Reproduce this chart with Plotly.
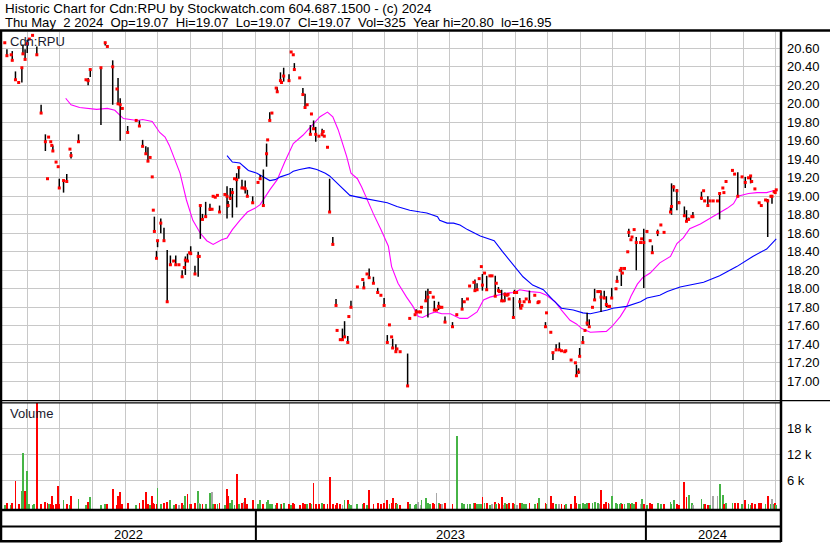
import plotly.graph_objects as go
import pandas as pd

W, H = 830, 543
FONT = "Liberation Sans, Arial, sans-serif"

# ---------------- data ----------------
dates = [
    "2022-05-11", "2022-05-13", "2022-05-17", "2022-05-18", "2022-05-21", "2022-05-24", "2022-05-27", "2022-05-28", "2022-05-30", "2022-06-01",
    "2022-06-03", "2022-06-06", "2022-06-07", "2022-06-10", "2022-06-14", "2022-06-18", "2022-06-20", "2022-06-21", "2022-06-23", "2022-06-24",
    "2022-06-25", "2022-06-28", "2022-06-30", "2022-07-01", "2022-07-05", "2022-07-08", "2022-07-11", "2022-07-12", "2022-07-19", "2022-07-26",
    "2022-07-28", "2022-07-30", "2022-08-09", "2022-08-13", "2022-08-15", "2022-08-20", "2022-08-24", "2022-08-25", "2022-08-27", "2022-08-29",
    "2022-09-03", "2022-09-11", "2022-09-14", "2022-09-17", "2022-09-20", "2022-09-22", "2022-09-24", "2022-09-26", "2022-09-27", "2022-09-28",
    "2022-09-30", "2022-10-01", "2022-10-04", "2022-10-07", "2022-10-10", "2022-10-13", "2022-10-16", "2022-10-18", "2022-10-21", "2022-10-24",
    "2022-10-26", "2022-10-27", "2022-10-29", "2022-10-31", "2022-11-01", "2022-11-05", "2022-11-08", "2022-11-09", "2022-11-10", "2022-11-12",
    "2022-11-15", "2022-11-19", "2022-11-21", "2022-11-22", "2022-11-24", "2022-11-26", "2022-11-28", "2022-12-03", "2022-12-05", "2022-12-06",
    "2022-12-08", "2022-12-10", "2022-12-12", "2022-12-14", "2022-12-16", "2022-12-19", "2022-12-21", "2022-12-22", "2022-12-24", "2022-12-29",
    "2023-01-03", "2023-01-05", "2023-01-08", "2023-01-11", "2023-01-12", "2023-01-14", "2023-01-16", "2023-01-20", "2023-01-21", "2023-01-24",
    "2023-01-25", "2023-01-27", "2023-02-01", "2023-02-03", "2023-02-05", "2023-02-06", "2023-02-11", "2023-02-14", "2023-02-16", "2023-02-18",
    "2023-02-21", "2023-02-22", "2023-02-24", "2023-02-26", "2023-03-01", "2023-03-04", "2023-03-05", "2023-03-06", "2023-03-09", "2023-03-11",
    "2023-03-14", "2023-03-17", "2023-03-18", "2023-03-21", "2023-03-23", "2023-03-25", "2023-03-28", "2023-03-29", "2023-03-31", "2023-04-06",
    "2023-04-11", "2023-04-12", "2023-04-15", "2023-04-17", "2023-04-21", "2023-04-25", "2023-04-28", "2023-05-01", "2023-05-04", "2023-05-06",
    "2023-05-08", "2023-05-09", "2023-05-12", "2023-05-13", "2023-05-16", "2023-05-23", "2023-05-25", "2023-05-30", "2023-05-31", "2023-06-02",
    "2023-06-04", "2023-06-05", "2023-06-09", "2023-06-11", "2023-06-13", "2023-06-16", "2023-06-17", "2023-06-19", "2023-06-21", "2023-06-22",
    "2023-06-24", "2023-06-27", "2023-07-04", "2023-07-08", "2023-07-13", "2023-07-15", "2023-07-18", "2023-07-20", "2023-07-24", "2023-07-25",
    "2023-07-27", "2023-07-29", "2023-07-31", "2023-08-01", "2023-08-03", "2023-08-05", "2023-08-08", "2023-08-10", "2023-08-13", "2023-08-14",
    "2023-08-16", "2023-08-17", "2023-08-19", "2023-08-21", "2023-08-22", "2023-08-24", "2023-08-25", "2023-08-26", "2023-08-30", "2023-08-31",
    "2023-09-02", "2023-09-05", "2023-09-06", "2023-09-07", "2023-09-09", "2023-09-11", "2023-09-14", "2023-09-19", "2023-09-22", "2023-09-23",
    "2023-09-29", "2023-09-30", "2023-10-04", "2023-10-06", "2023-10-09", "2023-10-12", "2023-10-14", "2023-10-17", "2023-10-18", "2023-10-23",
    "2023-10-27", "2023-10-28", "2023-10-30", "2023-10-31", "2023-11-03", "2023-11-05", "2023-11-07", "2023-11-09", "2023-11-12", "2023-11-14",
    "2023-11-17", "2023-11-19", "2023-11-20", "2023-11-23", "2023-11-25", "2023-11-27", "2023-11-28", "2023-11-30", "2023-12-04", "2023-12-05",
    "2023-12-08", "2023-12-09", "2023-12-10", "2023-12-12", "2023-12-15", "2023-12-16", "2023-12-18", "2023-12-19", "2023-12-21", "2023-12-23",
    "2023-12-27", "2023-12-28", "2023-12-30", "2024-01-02", "2024-01-05", "2024-01-07", "2024-01-12", "2024-01-15", "2024-01-18", "2024-01-24",
    "2024-01-25", "2024-01-27", "2024-01-30", "2024-02-01", "2024-02-06", "2024-02-08", "2024-02-10", "2024-02-13", "2024-02-14", "2024-02-22",
    "2024-02-24", "2024-02-25", "2024-02-28", "2024-03-01", "2024-03-04", "2024-03-08", "2024-03-10", "2024-03-13", "2024-03-14", "2024-03-16",
    "2024-03-22", "2024-03-24", "2024-03-27", "2024-03-31", "2024-04-03", "2024-04-06", "2024-04-08", "2024-04-09", "2024-04-12", "2024-04-16",
    "2024-04-18", "2024-04-22", "2024-04-24", "2024-04-27", "2024-04-28", "2024-04-30", "2024-05-01", "2024-05-02",
]
highs = [
    20.66, 20.59, 20.53, 20.57, 20.35, 20.23, 20.39, 20.64, 20.59, 20.69,
    20.70, 20.74, 20.80, 20.62, 19.99, 19.67, 19.19, 19.64, 19.59, 19.55,
    19.55, 19.37, 19.32, 19.19, 19.18, 19.24, 19.51, 19.48, 19.67, 20.26,
    20.28, 20.38, 20.39, 20.67, 20.62, 20.47, 20.16, 20.28, 20.06, 19.95,
    19.76, 19.82, 19.82, 19.61, 19.54, 19.53, 19.42, 19.21, 18.85, 18.78,
    18.41, 18.52, 18.76, 18.66, 18.42, 18.36, 18.30, 18.36, 18.26, 18.20,
    18.23, 18.35, 18.38, 18.39, 18.46, 18.25, 18.40, 18.35, 18.91, 18.81,
    18.94, 18.92, 18.86, 19.00, 18.99, 19.01, 18.90, 19.02, 19.11, 18.95,
    19.09, 19.09, 19.19, 19.25, 19.32, 19.18, 19.09, 19.17, 19.07, 19.00,
    19.15, 19.23, 19.29, 19.57, 19.61, 19.91, 19.90, 20.17, 20.18, 20.34,
    20.23, 20.39, 20.32, 20.56, 20.53, 20.44, 20.28, 20.17, 20.11, 19.99,
    19.77, 19.89, 19.82, 19.75, 19.65, 19.73, 19.70, 19.65, 19.53, 19.19,
    18.56, 17.89, 17.55, 17.45, 17.57, 17.65, 17.49, 17.70, 17.87, 18.02,
    18.11, 18.08, 18.16, 18.22, 18.13, 18.01, 17.93, 17.90, 17.50, 17.61,
    17.48, 17.46, 17.40, 17.35, 17.32, 17.30, 17.68, 17.72, 17.78, 17.75,
    17.75, 17.80, 17.98, 18.00, 17.96, 17.92, 17.87, 17.77, 17.86, 17.80,
    17.80, 17.70, 17.64, 17.73, 17.90, 17.86, 17.89, 18.03, 18.07, 18.10,
    18.06, 18.11, 18.24, 18.16, 18.17, 18.14, 18.14, 18.14, 18.14, 18.06,
    18.02, 17.97, 17.99, 17.87, 17.96, 17.93, 17.94, 17.89, 17.91, 17.99,
    17.96, 17.90, 17.79, 17.82, 17.86, 17.89, 17.98, 17.93, 17.87, 17.86,
    17.64, 17.74, 17.54, 17.31, 17.40, 17.42, 17.33, 17.32, 17.33, 17.23,
    17.20, 17.18, 17.14, 17.36, 17.49, 17.55, 17.74, 17.67, 17.80, 18.00,
    17.97, 17.97, 17.98, 17.98, 17.92, 17.81, 17.81, 18.01, 18.00, 18.14,
    18.20, 18.23, 18.17, 18.22, 18.40, 18.65, 18.53, 18.56, 18.64, 18.56,
    18.50, 18.54, 18.65, 18.62, 18.52, 18.47, 18.64, 18.69, 18.61, 18.88,
    19.14, 19.12, 19.08, 18.95, 18.89, 18.85, 18.77, 18.78, 18.83, 19.05,
    19.06, 18.95, 19.00, 18.95, 18.95, 18.95, 19.03, 19.09, 19.04, 19.16,
    19.29, 19.24, 19.26, 19.21, 19.21, 19.20, 19.23, 19.16, 19.08, 18.93,
    18.90, 18.96, 18.97, 19.00, 19.01, 19.05, 19.04, 19.07,
]
lows = [
    20.66, 20.52, 20.53, 20.47, 20.25, 20.23, 20.23, 20.53, 20.48, 20.55,
    20.70, 20.74, 20.80, 20.53, 19.90, 19.49, 19.19, 19.64, 19.59, 19.55,
    19.49, 19.37, 19.32, 19.09, 19.04, 19.16, 19.51, 19.41, 19.59, 20.26,
    20.20, 20.29, 19.77, 20.63, 20.62, 19.99, 20.16, 19.99, 19.60, 19.95,
    19.69, 19.82, 19.76, 19.54, 19.46, 19.38, 19.42, 19.21, 18.85, 18.62,
    18.32, 18.45, 18.60, 18.52, 17.86, 18.26, 18.30, 18.26, 18.26, 18.12,
    18.23, 18.15, 18.30, 18.39, 18.38, 18.15, 18.13, 18.35, 18.54, 18.75,
    18.78, 18.84, 18.86, 19.00, 18.99, 19.01, 18.83, 19.02, 18.76, 18.88,
    18.96, 18.77, 19.19, 18.88, 19.19, 19.09, 19.09, 19.03, 19.00, 18.93,
    19.15, 19.18, 18.90, 19.32, 19.61, 19.82, 19.90, 20.17, 20.13, 20.24,
    20.23, 20.24, 20.25, 20.56, 20.53, 20.37, 20.28, 20.10, 19.95, 19.99,
    19.67, 19.89, 19.73, 19.59, 19.65, 19.65, 19.70, 19.65, 19.53, 18.83,
    18.48, 17.82, 17.55, 17.45, 17.45, 17.48, 17.42, 17.70, 17.80, 18.02,
    18.10, 18.01, 18.16, 18.12, 18.06, 17.96, 17.93, 17.82, 17.42, 17.61,
    17.48, 17.36, 17.32, 17.35, 17.32, 16.95, 17.68, 17.72, 17.75, 17.75,
    17.75, 17.80, 17.87, 17.69, 17.96, 17.90, 17.77, 17.77, 17.77, 17.80,
    17.80, 17.64, 17.59, 17.72, 17.78, 17.86, 17.89, 18.03, 18.07, 17.97,
    17.99, 18.11, 18.24, 17.98, 18.17, 17.99, 18.14, 18.14, 17.92, 18.06,
    17.98, 17.97, 17.87, 17.87, 17.86, 17.93, 17.94, 17.89, 17.69, 17.96,
    17.96, 17.79, 17.79, 17.82, 17.86, 17.89, 17.86, 17.93, 17.85, 17.86,
    17.58, 17.74, 17.53, 17.23, 17.34, 17.33, 17.33, 17.32, 17.33, 17.23,
    17.20, 17.05, 17.08, 17.27, 17.42, 17.55, 17.60, 17.59, 17.80, 17.88,
    17.97, 17.97, 17.75, 17.90, 17.80, 17.81, 17.81, 17.90, 18.00, 18.08,
    18.20, 18.03, 18.17, 18.22, 18.40, 18.56, 18.53, 18.56, 18.64, 18.20,
    18.50, 18.54, 18.01, 18.62, 18.52, 18.39, 18.57, 18.69, 18.61, 18.83,
    18.80, 19.05, 18.85, 18.93, 18.78, 18.72, 18.74, 18.78, 18.78, 18.96,
    19.06, 18.95, 18.90, 18.95, 18.95, 18.95, 18.75, 19.09, 19.04, 19.16,
    19.27, 19.24, 19.00, 19.21, 19.09, 19.20, 19.14, 19.16, 19.08, 18.93,
    18.90, 18.96, 18.56, 19.00, 18.92, 19.05, 19.04, 19.07,
]
closes = [
    20.66, 20.52, 20.53, 20.47, 20.26, 20.23, 20.39, 20.54, 20.48, 20.65,
    20.70, 20.74, 20.80, 20.53, 19.90, 19.59, 19.19, 19.64, 19.59, 19.55,
    19.49, 19.37, 19.32, 19.09, 19.17, 19.16, 19.51, 19.44, 19.59, 20.26,
    20.25, 20.37, 20.39, 20.66, 20.62, 20.40, 20.16, 20.00, 19.99, 19.95,
    19.69, 19.82, 19.76, 19.54, 19.46, 19.38, 19.42, 19.21, 18.85, 18.62,
    18.33, 18.52, 18.71, 18.52, 17.86, 18.26, 18.30, 18.26, 18.26, 18.13,
    18.23, 18.31, 18.30, 18.39, 18.38, 18.16, 18.35, 18.35, 18.90, 18.75,
    18.78, 18.86, 18.86, 19.00, 18.99, 19.01, 18.83, 19.02, 19.00, 18.90,
    18.98, 19.04, 19.19, 19.18, 19.31, 19.09, 19.09, 19.08, 19.00, 18.93,
    19.15, 19.19, 18.90, 19.46, 19.61, 19.82, 19.90, 20.17, 20.13, 20.25,
    20.23, 20.30, 20.25, 20.56, 20.53, 20.37, 20.28, 20.10, 19.96, 19.99,
    19.67, 19.89, 19.73, 19.67, 19.65, 19.67, 19.70, 19.65, 19.53, 18.83,
    18.48, 17.82, 17.55, 17.45, 17.45, 17.48, 17.42, 17.70, 17.80, 18.02,
    18.10, 18.01, 18.16, 18.12, 18.06, 17.96, 17.93, 17.82, 17.42, 17.61,
    17.48, 17.36, 17.32, 17.35, 17.32, 16.95, 17.68, 17.72, 17.75, 17.75,
    17.75, 17.80, 17.87, 17.91, 17.96, 17.91, 17.77, 17.77, 17.81, 17.80,
    17.80, 17.64, 17.59, 17.72, 17.78, 17.86, 17.89, 18.03, 18.07, 17.98,
    17.99, 18.11, 18.24, 18.04, 18.17, 17.99, 18.14, 18.14, 17.92, 18.06,
    17.98, 17.97, 17.87, 17.87, 17.94, 17.93, 17.94, 17.89, 17.69, 17.96,
    17.96, 17.86, 17.79, 17.82, 17.86, 17.89, 17.86, 17.93, 17.85, 17.86,
    17.59, 17.74, 17.53, 17.31, 17.34, 17.34, 17.33, 17.32, 17.33, 17.23,
    17.20, 17.06, 17.10, 17.27, 17.42, 17.55, 17.63, 17.59, 17.80, 17.88,
    17.97, 17.97, 17.91, 17.90, 17.83, 17.81, 17.81, 17.90, 18.00, 18.08,
    18.20, 18.22, 18.17, 18.22, 18.40, 18.61, 18.53, 18.56, 18.64, 18.50,
    18.50, 18.54, 18.50, 18.62, 18.52, 18.39, 18.61, 18.69, 18.61, 18.83,
    18.89, 19.10, 19.06, 18.93, 18.79, 18.73, 18.75, 18.78, 18.78, 18.98,
    19.06, 18.95, 18.90, 18.95, 18.95, 18.95, 19.03, 19.09, 19.04, 19.16,
    19.28, 19.24, 19.00, 19.21, 19.15, 19.20, 19.22, 19.16, 19.08, 18.93,
    18.90, 18.96, 18.95, 19.00, 19.00, 19.05, 19.04, 19.07,
]
volumes = [
    300, 800, 300, 600, 5800, 500, 3500, 12300, 3500, 8100,
    400, 300, 400, 26000, 500, 900, 600, 500, 400, 2300,
    300, 500, 4600, 500, 1400, 500, 300, 2300, 1600, 300,
    900, 2000, 300, 400, 500, 3900, 300, 2300, 3200, 500,
    600, 300, 600, 1400, 3200, 500, 300, 2400, 600, 500,
    400, 4200, 500, 800, 1000, 1300, 300, 500, 200, 800,
    300, 2300, 2700, 500, 500, 700, 3500, 600, 400, 500,
    400, 3100, 3200, 400, 400, 500, 600, 300, 3900, 2300,
    700, 1300, 300, 7400, 500, 600, 900, 1900, 400, 1300,
    500, 1400, 500, 1000, 1400, 400, 500, 300, 600, 500,
    400, 600, 500, 300, 600, 400, 300, 800, 500, 400,
    600, 400, 5300, 500, 400, 600, 300, 500, 400, 6700,
    500, 300, 800, 400, 200, 1300, 1300, 500, 300, 500,
    400, 600, 300, 3700, 500, 700, 400, 600, 1400, 500,
    600, 1900, 800, 500, 300, 900, 400, 300, 400, 900,
    300, 1400, 1900, 600, 500, 600, 400, 2900, 800, 500,
    400, 600, 400, 16200, 600, 500, 500, 500, 600, 800,
    400, 500, 400, 2000, 600, 800, 300, 400, 900, 500,
    600, 400, 2000, 300, 700, 500, 500, 600, 700, 400,
    300, 600, 500, 600, 500, 400, 700, 500, 600, 1900,
    600, 400, 2300, 600, 500, 400, 500, 300, 400, 500,
    2400, 600, 500, 400, 600, 500, 800, 700, 600, 900,
    600, 500, 3700, 500, 900, 800, 500, 2400, 600, 500,
    400, 600, 500, 400, 600, 800, 500, 600, 500, 900,
    400, 1700, 400, 300, 600, 500, 600, 400, 500, 900,
    500, 1500, 400, 300, 5500, 2000, 2600, 600, 300, 1700,
    500, 500, 300, 300, 2400, 2400, 5100, 2600, 500, 600,
    700, 800, 600, 400, 1300, 500, 300, 600, 500, 700,
    600, 400, 2300, 500, 1700, 400, 600, 325,
]

# moving averages as drawn on the reference (magenta = short, blue = long)
ma_short_dates = [
    "2022-07-07", "2022-07-12", "2022-07-20", "2022-08-05", "2022-08-15", "2022-08-22", "2022-08-30", "2022-09-12",
    "2022-09-17", "2022-09-26", "2022-10-03", "2022-10-08", "2022-10-12", "2022-10-15", "2022-10-22", "2022-10-28",
    "2022-11-03", "2022-11-10", "2022-11-16", "2022-11-22", "2022-11-30", "2022-12-05", "2022-12-10", "2022-12-17",
    "2022-12-24", "2022-12-31", "2023-01-05", "2023-01-14", "2023-01-21", "2023-01-28", "2023-02-05", "2023-02-14",
    "2023-02-23", "2023-03-02", "2023-03-09", "2023-03-14", "2023-03-19", "2023-03-27", "2023-03-31", "2023-04-06",
    "2023-04-10", "2023-04-15", "2023-04-21", "2023-04-28", "2023-05-05", "2023-05-08", "2023-05-14", "2023-05-22",
    "2023-05-28", "2023-06-02", "2023-06-06", "2023-06-13", "2023-06-18", "2023-06-24", "2023-07-02", "2023-07-11",
    "2023-07-18", "2023-07-27", "2023-08-02", "2023-08-08", "2023-08-22", "2023-08-30", "2023-09-05", "2023-09-15",
    "2023-09-24", "2023-09-30", "2023-10-08", "2023-10-14", "2023-10-22", "2023-10-28", "2023-11-02", "2023-11-10",
    "2023-11-25", "2023-11-30", "2023-12-05", "2023-12-08", "2023-12-14", "2023-12-18", "2023-12-24", "2023-12-29",
    "2024-01-05", "2024-01-14", "2024-01-24", "2024-01-30", "2024-02-05", "2024-02-11", "2024-02-21", "2024-03-01",
    "2024-03-10", "2024-03-17", "2024-03-23", "2024-03-27", "2024-04-06", "2024-04-14", "2024-04-23", "2024-04-29",
    "2024-05-02",
]
ma_short = [
    20.06, 19.99, 19.96, 19.94, 19.95, 19.93, 19.84, 19.82,
    19.83, 19.81, 19.69, 19.64, 19.55, 19.46, 19.25, 18.96,
    18.74, 18.60, 18.52, 18.48, 18.53, 18.55, 18.64, 18.74,
    18.83, 18.87, 18.91, 19.07, 19.18, 19.37, 19.57, 19.66,
    19.77, 19.86, 19.91, 19.86, 19.72, 19.43, 19.25, 19.19,
    19.10, 18.96, 18.81, 18.64, 18.46, 18.24, 18.06, 17.91,
    17.81, 17.70, 17.69, 17.73, 17.75, 17.73, 17.73, 17.68,
    17.68, 17.75, 17.88, 17.91, 17.95, 17.96, 17.99, 17.97,
    17.96, 17.93, 17.86, 17.77, 17.66, 17.62, 17.57, 17.53,
    17.54, 17.59, 17.66, 17.70, 17.81, 17.92, 18.05, 18.12,
    18.17, 18.28, 18.35, 18.49, 18.55, 18.65, 18.70, 18.76,
    18.82, 18.87, 18.92, 19.00, 19.03, 19.04, 19.04, 19.06,
    19.06,
]
ma_long_dates = [
    "2022-12-05", "2022-12-10", "2022-12-17", "2022-12-25", "2023-01-02", "2023-01-08", "2023-01-14", "2023-01-19",
    "2023-01-24", "2023-02-01", "2023-02-05", "2023-02-11", "2023-02-20", "2023-02-27", "2023-03-07", "2023-03-11",
    "2023-03-18", "2023-03-30", "2023-04-11", "2023-04-21", "2023-05-04", "2023-05-13", "2023-05-25", "2023-06-04",
    "2023-06-10", "2023-06-20", "2023-06-22", "2023-06-29", "2023-07-05", "2023-07-11", "2023-07-18", "2023-07-30",
    "2023-08-08", "2023-08-12", "2023-08-20", "2023-08-30", "2023-09-08", "2023-09-17", "2023-09-27", "2023-10-06",
    "2023-10-14", "2023-10-25", "2023-11-03", "2023-11-10", "2023-11-19", "2023-11-26", "2023-12-01", "2023-12-14",
    "2023-12-27", "2024-01-02", "2024-01-14", "2024-01-21", "2024-02-02", "2024-02-24", "2024-03-10", "2024-03-26",
    "2024-04-10", "2024-04-23", "2024-05-02",
]
ma_long = [
    19.44, 19.37, 19.36, 19.28, 19.25, 19.21, 19.17, 19.18,
    19.21, 19.24, 19.27, 19.29, 19.31, 19.29, 19.25, 19.22,
    19.14, 19.01, 18.98, 18.96, 18.93, 18.89, 18.85, 18.83,
    18.82, 18.78, 18.74, 18.71, 18.71, 18.69, 18.64, 18.57,
    18.54, 18.52, 18.40, 18.26, 18.13, 18.04, 17.99, 17.88,
    17.79, 17.77, 17.74, 17.73, 17.75, 17.77, 17.79, 17.81,
    17.86, 17.90, 17.93, 17.97, 18.02, 18.07, 18.14, 18.24,
    18.35, 18.43, 18.54,
]

price_tick_values = [17.00, 17.20, 17.40, 17.60, 17.80, 18.00, 18.20, 18.40, 18.60, 18.80,
                     19.00, 19.20, 19.40, 19.60, 19.80, 20.00, 20.20, 20.40, 20.60]
price_tick_labels = ["17.00", "17.20", "17.40", "17.60", "17.80", "18.00", "18.20", "18.40", "18.60", "18.80",
                     "19.00", "19.20", "19.40", "19.60", "19.80", "20.00", "20.20", "20.40", "20.60"]
volume_tick_values = [6000, 12000, 18000]
volume_tick_labels = ["6 k", "12 k", "18 k"]
year_labels = ["2022", "2023", "2024"]

title_line1 = "Historic Chart for Cdn:RPU by Stockwatch.com 604.687.1500 - (c) 2024"
title_line2 = "Thu May  2 2024  Op=19.07  Hi=19.07  Lo=19.07  Cl=19.07  Vol=325  Year hi=20.80  lo=16.95"

# ---------------- layout helpers (pixel -> paper) ----------------
def px(x):
    return x / W


def py(y):
    return 1 - y / H


X0, X1 = 2, 780            # plot area, pixels
P_TOP, P_BOT = 32, 400     # price panel
V_TOP, V_BOT = 403, 509    # volume panel
x_range = [pd.Timestamp("2022-05-08 09:36"), pd.Timestamp("2024-05-05 12:00")]
VOL_BASE = -690

# ---------------- traces ----------------
seg_x, seg_y = [], []
for d, h, l in zip(dates, highs, lows):
    if h > l:
        seg_x += [d, d, None]
        seg_y += [l, h, None]

vol_colors = []
prev = None
for c in closes:
    if prev is None or c > prev:
        vol_colors.append("#46b446")
    elif c < prev:
        vol_colors.append("#ff0000")
    else:
        vol_colors.append("#a8a8a8")
    prev = c

fig = go.Figure()
fig.add_trace(go.Scatter(x=ma_short_dates, y=ma_short, mode="lines",
                         line=dict(color="#ff00ff", width=1.1), xaxis="x", yaxis="y"))
fig.add_trace(go.Scatter(x=ma_long_dates, y=ma_long, mode="lines",
                         line=dict(color="#0000ff", width=1.1), xaxis="x", yaxis="y"))
fig.add_trace(go.Scatter(x=seg_x, y=seg_y, mode="lines",
                         line=dict(color="#000000", width=1.5), xaxis="x", yaxis="y"))
fig.add_trace(go.Scatter(x=dates, y=closes, mode="markers",
                         marker=dict(symbol="square", size=3, color="#ff0000", line=dict(width=0)),
                         xaxis="x", yaxis="y"))
fig.add_trace(go.Bar(x=dates, y=[v - VOL_BASE for v in volumes], base=VOL_BASE,
                     width=1.7 * 86400000, marker=dict(color=vol_colors, line=dict(width=0)),
                     xaxis="x2", yaxis="y2"))

grid = "#c8c8c8"
axis_font = dict(family=FONT, size=13, color="#000000")
xcommon = dict(type="date", range=x_range, domain=[px(X0), px(X1)],
               showgrid=True, gridcolor=grid, gridwidth=1,
               tickmode="linear", tick0="2022-06-01", dtick="M1",
               showticklabels=False, ticks="", showline=False, zeroline=False)

p_lo = 20.60 - (P_BOT - 48.3) * 0.2 / 18.5
p_hi = 20.60 + (48.3 - P_TOP) * 0.2 / 18.5
v_per_px = 6000 / 26.0
v_lo = -(V_BOT - 506) * v_per_px
v_hi = (506 - V_TOP) * v_per_px

fig.update_layout(
    width=W, height=H,
    margin=dict(l=0, r=0, t=0, b=0),
    paper_bgcolor="white", plot_bgcolor="white",
    showlegend=False, hovermode=False, bargap=0,
    font=axis_font,
    xaxis=dict(xcommon, anchor="y"),
    xaxis2=dict(xcommon, anchor="y2", matches="x"),
    yaxis=dict(domain=[py(P_BOT), py(P_TOP)], range=[p_lo, p_hi], side="right",
               tickmode="array", tickvals=price_tick_values, ticktext=price_tick_labels,
               showgrid=True, gridcolor=grid, gridwidth=1, zeroline=False, showline=False,
               ticks="", ticklabelstandoff=6, tickfont=axis_font, anchor="x"),
    yaxis2=dict(domain=[py(V_BOT), py(V_TOP)], range=[v_lo, v_hi], side="right",
                tickmode="array", tickvals=volume_tick_values, ticktext=volume_tick_labels,
                showgrid=True, gridcolor=grid, gridwidth=1, zeroline=False, showline=False,
                ticks="", ticklabelstandoff=6, tickfont=axis_font, anchor="x2"),
)

# ---------------- frame lines ----------------
def hline(y, x0, x1, w):
    fig.add_shape(type="line", xref="paper", yref="paper", x0=px(x0), x1=px(x1), y0=py(y), y1=py(y),
                  line=dict(color="black", width=w), layer="above")


def vline(x, y0, y1, w):
    fig.add_shape(type="line", xref="paper", yref="paper", x0=px(x), x1=px(x), y0=py(y0), y1=py(y1),
                  line=dict(color="black", width=w), layer="above")


hline(30.5, 0, W, 2.5)          # under the title
hline(400.7, 0, W, 1.3)         # price / volume split
hline(402.8, 0, 781, 1.3)
hline(510, 0, 781, 2.5)         # date strip
hline(526.5, 0, 781, 2.2)
hline(541.3, 0, 781, 2.5)
vline(1, 30, 542, 2.5)          # left frame
vline(781, 30, 542, 2.5)        # right axis line

year_starts = [pd.Timestamp(f"{y}-01-01") for y in year_labels]
for ys in year_starts[1:]:
    fig.add_shape(type="line", xref="x", yref="paper", x0=ys, x1=ys, y0=py(510), y1=py(541),
                  line=dict(color="black", width=2), layer="above")

for lab, ys in zip(year_labels, year_starts):
    a = max(ys, x_range[0])
    b = min(pd.Timestamp(f"{int(lab) + 1}-01-01"), x_range[1])
    mid = a + (b - a) / 2
    fig.add_annotation(x=mid, xref="x", y=py(534.5), yref="paper", text=lab, showarrow=False,
                       xanchor="center", yanchor="middle", font=dict(family=FONT, size=13, color="black"))

# ---------------- texts ----------------
def nb(s):
    return s.replace(" ", "\u00a0")


fig.add_annotation(x=px(3), y=py(8.5), xref="paper", yref="paper", text=nb(title_line1), showarrow=False,
                   xanchor="left", yanchor="middle", font=dict(family=FONT, size=13.4, color="black"))
fig.add_annotation(x=px(3), y=py(22.5), xref="paper", yref="paper", text=nb(title_line2), showarrow=False,
                   xanchor="left", yanchor="middle", font=dict(family=FONT, size=13.1, color="black"))
fig.add_annotation(x=px(8), y=py(41.5), xref="paper", yref="paper", text="Cdn:RPU", showarrow=False,
                   xanchor="left", yanchor="middle", font=dict(family=FONT, size=13, color="#1a1a2e"))
fig.add_annotation(x=px(8), y=py(413.5), xref="paper", yref="paper", text="Volume", showarrow=False,
                   xanchor="left", yanchor="middle", font=dict(family=FONT, size=13, color="#1a1a2e"))

assert len(dates) == len(highs) == len(lows) == len(closes) == len(volumes)
fig.write_html("out.html",
               config={"displayModeBar": False, "staticPlot": True},
               post_script="document.body.style.margin='0px';document.body.style.padding='0px';"
                           "document.documentElement.style.overflow='hidden';")
